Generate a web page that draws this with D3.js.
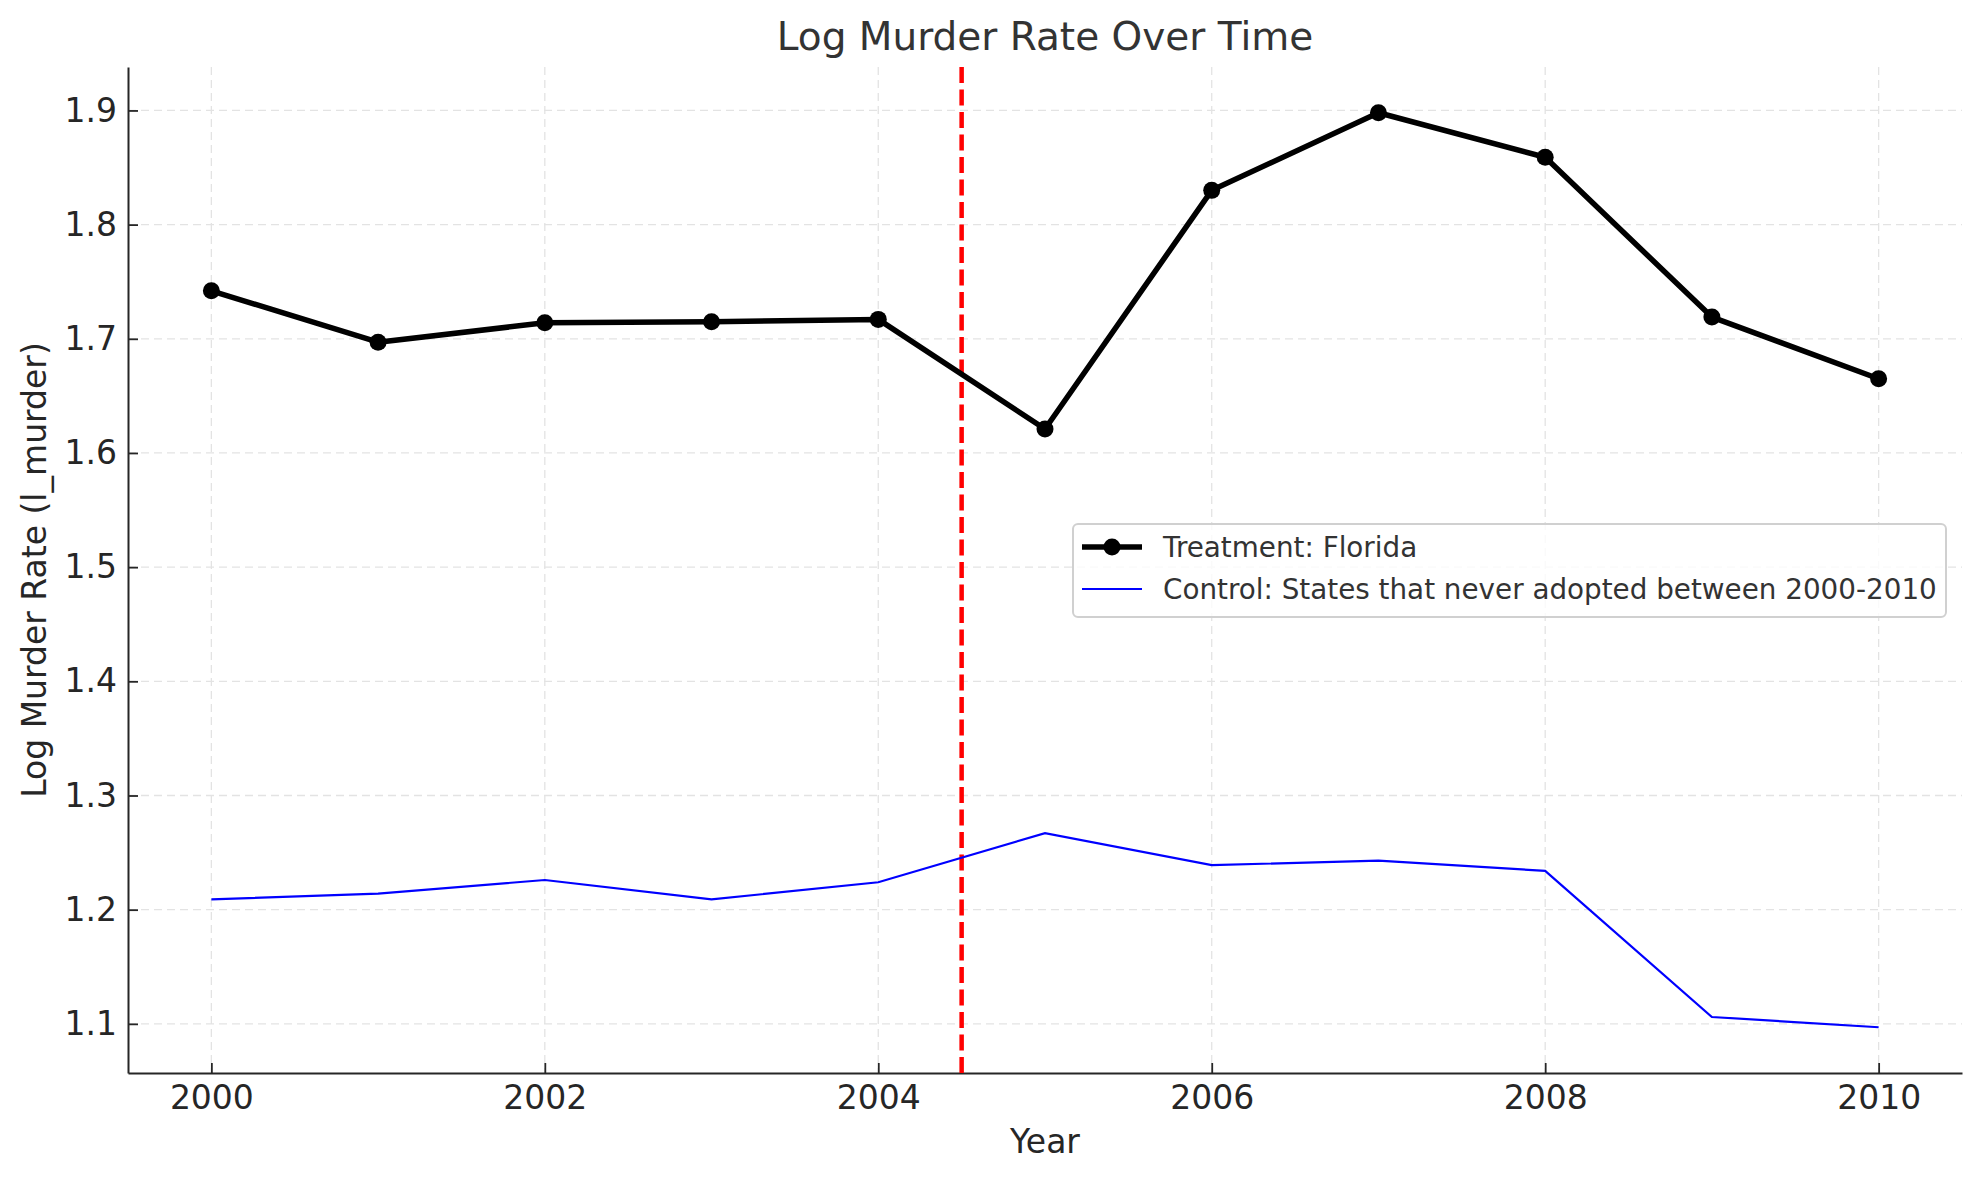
<!DOCTYPE html>
<html lang="en">
<head>
    <meta charset="UTF-8">
    <title>Log Murder Rate Over Time</title>
    <style>
        body { margin: 0; background: #fff; }
        svg { display: block; font-family: "DejaVu Sans", sans-serif; }
    </style>
</head>
<body>
    <svg id="chart" width="1980" height="1180"></svg>

    <script src="https://d3js.org/d3.v7.min.js"></script>
    <script>
        // data
        const years = [2000, 2001, 2002, 2003, 2004, 2005, 2006, 2007, 2008, 2009, 2010];
        const treatment = [1.742, 1.697, 1.714, 1.715, 1.717, 1.621, 1.830, 1.898, 1.859, 1.719, 1.665];
        const control = [1.209, 1.214, 1.226, 1.209, 1.224, 1.267, 1.239, 1.243, 1.234, 1.106, 1.097];
        const xTicks = [2000, 2002, 2004, 2006, 2008, 2010];
        const yTicks = [1.1, 1.2, 1.3, 1.4, 1.5, 1.6, 1.7, 1.8, 1.9];
        const cutoffYear = 2004.5;
        const legendLabels = ['Treatment: Florida', 'Control: States that never adopted between 2000-2010'];

        const svg = d3.select('#chart');
        const plot = { left: 128, right: 1962, top: 67, bottom: 1073 };

        // matplotlib-like 5% margins
        const xMin = d3.min(years), xMax = d3.max(years);
        const xPad = (xMax - xMin) * 0.05;
        const x = d3.scaleLinear().domain([xMin - xPad, xMax + xPad]).range([plot.left, plot.right]);

        const allY = treatment.concat(control);
        const yLo = d3.min(allY), yHi = d3.max(allY);
        const yPad = (yHi - yLo) * 0.05;
        const y = d3.scaleLinear().domain([yLo - yPad, yHi + yPad]).range([plot.bottom, plot.top]);

        // grid
        const grid = svg.append('g')
            .attr('stroke', '#e3e3e3')
            .attr('stroke-width', 1.3)
            .attr('stroke-dasharray', '8,5');
        grid.selectAll('.gx').data(xTicks).enter().append('line')
            .attr('x1', d => x(d)).attr('x2', d => x(d))
            .attr('y1', plot.top).attr('y2', plot.bottom);
        grid.selectAll('.gy').data(yTicks).enter().append('line')
            .attr('x1', plot.left).attr('x2', plot.right)
            .attr('y1', d => y(d)).attr('y2', d => y(d));

        // axes
        const xAxis = svg.append('g')
            .attr('transform', 'translate(0,' + plot.bottom + ')')
            .call(d3.axisBottom(x).tickValues(xTicks).tickFormat(d3.format('d'))
                .tickSizeInner(-10).tickSizeOuter(0).tickPadding(13));
        const yAxis = svg.append('g')
            .attr('transform', 'translate(' + plot.left + ',0)')
            .call(d3.axisLeft(y).tickValues(yTicks).tickFormat(d3.format('.1f'))
                .tickSizeInner(-10).tickSizeOuter(0).tickPadding(11));

        [xAxis, yAxis].forEach(ax => {
            ax.select('.domain').attr('stroke', '#262626').attr('stroke-width', 2);
            ax.selectAll('.tick line').attr('stroke', '#262626').attr('stroke-width', 1.8);
            ax.selectAll('.tick text')
                .attr('fill', '#262626')
                .style('font-family', '"DejaVu Sans", sans-serif')
                .style('font-size', '33px');
        });

        // cutoff line
        svg.append('line')
            .attr('x1', x(cutoffYear)).attr('x2', x(cutoffYear))
            .attr('y1', plot.top).attr('y2', plot.bottom)
            .attr('stroke', '#ff0000')
            .attr('stroke-width', 4.5)
            .attr('stroke-dasharray', '16,6.5');

        const line = d3.line().x(d => x(d[0])).y(d => y(d[1]));

        // control series
        svg.append('path')
            .datum(d3.zip(years, control))
            .attr('d', line)
            .attr('fill', 'none')
            .attr('stroke', '#0000ff')
            .attr('stroke-width', 2.2);

        // treatment series
        svg.append('path')
            .datum(d3.zip(years, treatment))
            .attr('d', line)
            .attr('fill', 'none')
            .attr('stroke', '#000')
            .attr('stroke-width', 5.5)
            .attr('stroke-linejoin', 'round');
        svg.selectAll('.pt').data(d3.zip(years, treatment)).enter().append('circle')
            .attr('cx', d => x(d[0]))
            .attr('cy', d => y(d[1]))
            .attr('r', 8.5)
            .attr('fill', '#000');

        // title and axis labels
        svg.append('text')
            .attr('x', (plot.left + plot.right) / 2).attr('y', 50)
            .attr('text-anchor', 'middle')
            .attr('fill', '#333')
            .style('font-size', '39px')
            .text('Log Murder Rate Over Time');
        svg.append('text')
            .attr('x', (plot.left + plot.right) / 2).attr('y', 1153)
            .attr('text-anchor', 'middle')
            .attr('fill', '#262626')
            .style('font-size', '33px')
            .text('Year');
        svg.append('text')
            .attr('transform', 'translate(46,' + (plot.top + plot.bottom) / 2 + ') rotate(-90)')
            .attr('text-anchor', 'middle')
            .attr('fill', '#262626')
            .style('font-size', '33px')
            .text('Log Murder Rate (l_murder)');

        // legend
        const lg = svg.append('g').attr('transform', 'translate(1073,524)');
        lg.append('rect')
            .attr('x', 0).attr('y', 0)
            .attr('width', 873).attr('height', 93)
            .attr('rx', 5)
            .attr('fill', 'rgba(255,255,255,0.8)')
            .attr('stroke', '#d0d0d0')
            .attr('stroke-width', 2);
        const rows = [
            { label: legendLabels[0], color: '#000', width: 5.5, marker: true, y: 23 },
            { label: legendLabels[1], color: '#0000ff', width: 2.2, marker: false, y: 65 }
        ];
        rows.forEach(r => {
            lg.append('line')
                .attr('x1', 9).attr('x2', 69)
                .attr('y1', r.y).attr('y2', r.y)
                .attr('stroke', r.color)
                .attr('stroke-width', r.width);
            if (r.marker) {
                lg.append('circle').attr('cx', 39).attr('cy', r.y).attr('r', 8.5).attr('fill', r.color);
            }
            lg.append('text')
                .attr('x', 90).attr('y', r.y)
                .attr('dy', '0.36em')
                .attr('fill', '#333')
                .style('font-size', '27.8px')
                .text(r.label);
        });
    </script>
</body>
</html>
